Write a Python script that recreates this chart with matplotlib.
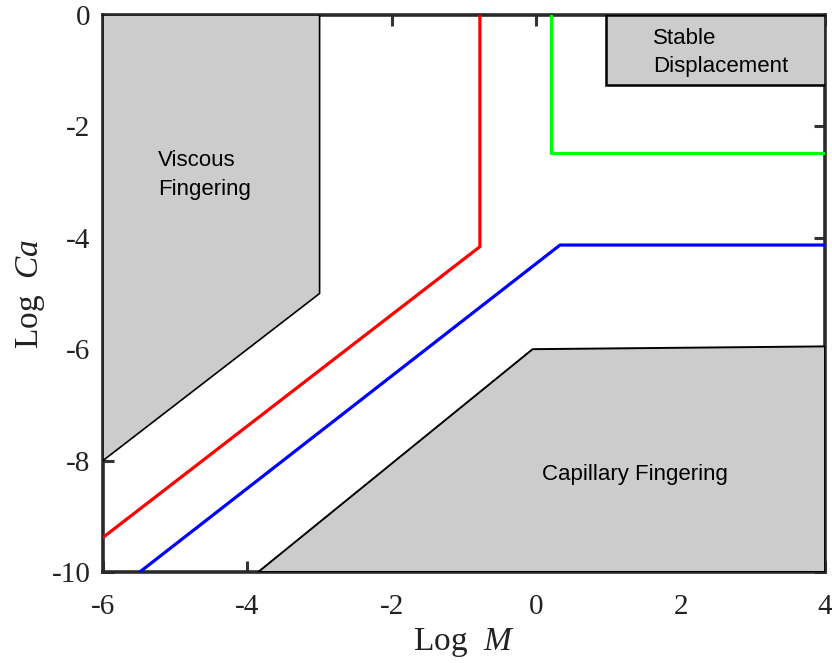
import matplotlib
matplotlib.use('Agg')
import matplotlib.pyplot as plt
from matplotlib.patches import Polygon

plt.rcParams['font.family'] = 'Liberation Serif'
plt.rcParams['mathtext.fontset'] = 'custom'
plt.rcParams['mathtext.it'] = 'Liberation Serif:italic'
plt.rcParams['mathtext.rm'] = 'Liberation Serif'
plt.rcParams['axes.unicode_minus'] = False

# Regiões do diagrama de fases (log M, log Ca)
viscoso_x = [-6, -3, -3, -6]
viscoso_y = [0, 0, -5, -8]
capilar_x = [-3.85, -0.05, 4, 4]
capilar_y = [-10, -6.0, -5.95, -10]
estavel_x = [0.97, 4, 4, 0.97]
estavel_y = [0, 0, -1.25, -1.25]

# Fronteiras medidas
vermelho_x = [-6, -0.78, -0.78]
vermelho_y = [-9.38, -4.16, 0]
azul_x = [-5.49, 0.33, 4]
azul_y = [-10, -4.13, -4.13]
verde_x = [0.2, 0.2, 4]
verde_y = [0, -2.48, -2.48]

fig = plt.figure(figsize=(8.32, 6.63), dpi=100)
ax = fig.add_axes([0.1238, 0.1373, 0.8678, 0.8401])

cinza = '#cccccc'
ax.add_patch(Polygon(list(zip(viscoso_x, viscoso_y)), closed=True,
                     facecolor=cinza, edgecolor='black', lw=1.2, zorder=3))
ax.add_patch(Polygon(list(zip(capilar_x, capilar_y)), closed=True,
                     facecolor=cinza, edgecolor='black', lw=1.4, zorder=3))
ax.add_patch(Polygon(list(zip(estavel_x, estavel_y)), closed=True,
                     facecolor=cinza, edgecolor='black', lw=1.8, zorder=3))

ax.plot(vermelho_x, vermelho_y, color='#ff0000', lw=2.3, zorder=4)
ax.plot(azul_x, azul_y, color='#0000ff', lw=2.3, zorder=4)
ax.plot(verde_x, verde_y, color='#00ff00', lw=2.3, zorder=4)

sans = 'Liberation Sans'
ax.text(-5.24, -2.88, 'Viscous\nFingering', family=sans, fontsize=16,
        ha='left', va='center', linespacing=1.5, zorder=5)
ax.text(1.62, -0.67, 'Stable\nDisplacement', family=sans, fontsize=16,
        ha='left', va='center', linespacing=1.45, zorder=5)
ax.text(1.37, -8.25, 'Capillary Fingering', family=sans, fontsize=16,
        ha='center', va='center', zorder=5)

ax.set_xlim(-6, 4)
ax.set_ylim(-10, 0)
ax.set_xticks([-6, -4, -2, 0, 2, 4])
ax.set_yticks([-10, -8, -6, -4, -2, 0])
ax.tick_params(direction='in', length=8, width=2.2, color='#333333',
               top=True, right=True, labelsize=21, labelcolor='#222222')
ax.tick_params(axis='x', pad=16)
ax.tick_params(axis='y', pad=9)
for s in ax.spines.values():
    s.set_linewidth(2.6)
    s.set_color('#2a2a2a')

ax.set_xlabel(r'Log  $M$', fontsize=24, labelpad=4, color='#222222')
ax.set_ylabel(r'Log  $Ca$', fontsize=24, labelpad=3, color='#222222')

fig.savefig('out.png', dpi=100)
